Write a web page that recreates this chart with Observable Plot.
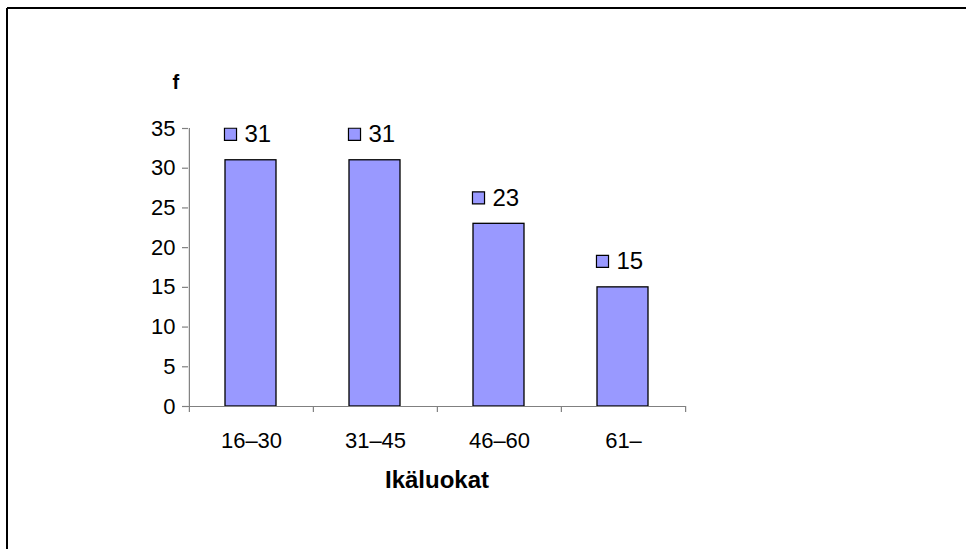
<!DOCTYPE html>
<html>
<head>
<meta charset="utf-8">
<script src="https://cdn.jsdelivr.net/npm/d3@7"></script>
<script src="https://cdn.jsdelivr.net/npm/@observablehq/plot@0.6"></script>
<style>
  html, body { margin: 0; padding: 0; background: #fff; }
  #chart svg { display: block; }
</style>
</head>
<body>
<div id="chart"></div>
<script>
// Age classes and their frequencies
const categories = ["16–30", "31–45", "46–60", "61–"];
const counts = [31, 31, 23, 15];
const yTicks = [0, 5, 10, 15, 20, 25, 30, 35];
const yTitle = "f";
const xTitle = "Ikäluokat";

const rows = categories.map((c, i) => ({ category: c, count: counts[i] }));

const W = 966, H = 549;
const mLeft = 188, mRight = 281, mTop = 128, mBottom = 143;
const bandWidth = (W - mLeft - mRight) / categories.length;
const barFill = "#9999ff";
const axisGray = "#808080";
const font = "'Liberation Sans', Arial, Helvetica, sans-serif";

const chart = Plot.plot({
  width: W,
  height: H,
  marginLeft: mLeft,
  marginRight: mRight,
  marginTop: mTop,
  marginBottom: mBottom,
  style: { fontFamily: font, fontSize: "22px", color: "black", background: "white", overflow: "visible" },
  x: { domain: categories, padding: 0, label: null },
  y: { domain: [0, 35], label: null },
  marks: [
    // bars
    Plot.barY(rows, {
      x: "category", y: "count",
      fill: barFill, stroke: "black", strokeWidth: 1.3,
      insetLeft: 36, insetRight: 37
    }),
    // value axis line and category axis line
    Plot.ruleX([categories[0]], { x: d => d, dx: -bandWidth / 2, y1: 0, y2: 35, stroke: axisGray, strokeWidth: 1.2 }),
    Plot.ruleY([0], { stroke: axisGray, strokeWidth: 1.2 }),
    // category boundary ticks
    Plot.ruleX(categories, { x: d => d, dx: -bandWidth / 2, y1: 0, y2: -0.76, stroke: axisGray, strokeWidth: 1.2 }),
    Plot.ruleX([categories[categories.length - 1]], { x: d => d, dx: bandWidth / 2, y1: 0, y2: -0.76, stroke: axisGray, strokeWidth: 1.2 }),
    Plot.axisY({ ticks: yTicks, tickSize: 6, tickPadding: 7, stroke: axisGray, strokeWidth: 1.2, fontSize: 22, label: null }),
    Plot.axisX({ tickSize: 0, tickPadding: 26, fontSize: 22, label: null }),
    // value labels with legend key
    Plot.dot(rows, {
      x: "category", y: "count", dx: -21, dy: -26,
      symbol: "square", r: 6.8, fill: barFill, stroke: "black", strokeWidth: 1.2
    }),
    Plot.text(rows, {
      x: "category", y: "count", text: d => String(d.count),
      dx: -7, dy: -26, textAnchor: "start", lineAnchor: "middle",
      fontSize: 24, fill: "black"
    }),
    // axis titles
    Plot.text([yTitle], { frameAnchor: "top-left", dx: -16, dy: -46, text: d => d, fontSize: 20, fontWeight: "bold", lineAnchor: "middle" }),
    Plot.text([xTitle], { frameAnchor: "bottom", dy: 74, text: d => d, fontSize: 24, fontWeight: "bold", lineAnchor: "middle", letterSpacing: "-0.5px" })
  ]
});

// outer chart border (top and left edges)
const svg = d3.select(chart);
svg.append("line").attr("x1", 7).attr("x2", W).attr("y1", 8).attr("y2", 8)
  .attr("stroke", "black").attr("stroke-width", 2);
svg.append("line").attr("x1", 7).attr("x2", 7).attr("y1", 8).attr("y2", H)
  .attr("stroke", "black").attr("stroke-width", 2);

document.getElementById("chart").appendChild(chart);
</script>
</body>
</html>
